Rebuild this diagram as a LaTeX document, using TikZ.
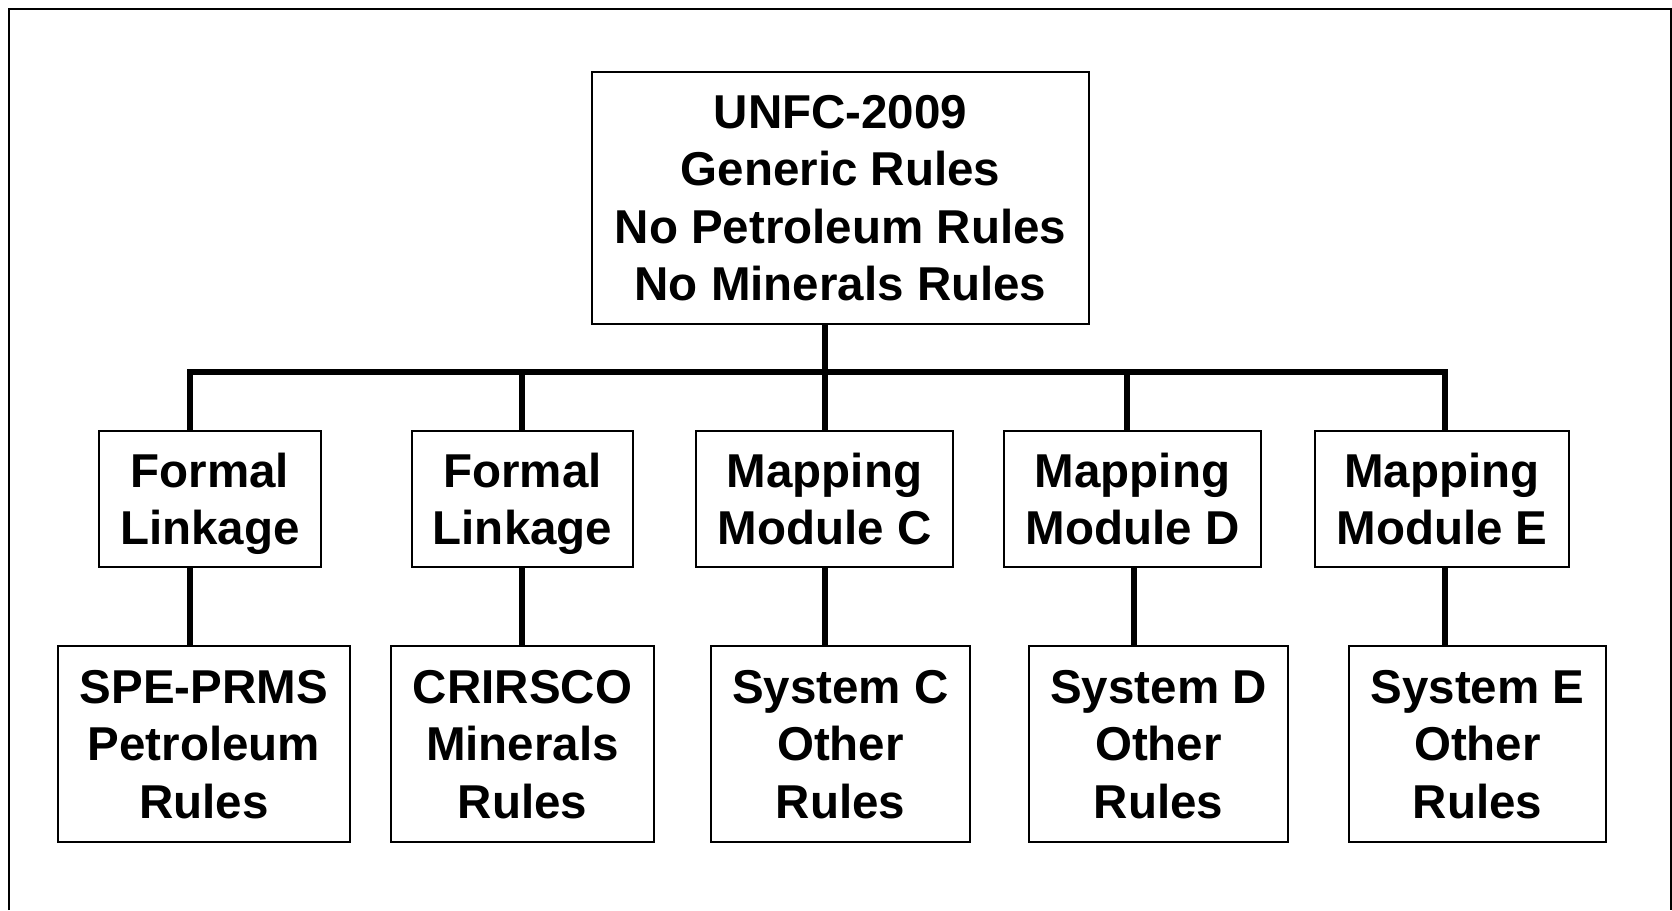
\documentclass[tikz,border=0pt]{standalone}
\usepackage{fontspec}
\setmainfont{Liberation Sans}
\begin{document}
\begin{tikzpicture}[x=1pt,y=-1pt,
  box/.style={draw, line width=2pt, inner sep=0pt, align=center, text depth=-4pt,
    font=\bfseries\fontsize{47.5}{57.5}\selectfont},
  topbox/.style={box, minimum width=497pt, minimum height=252pt},
  midbox/.style={box, minimum height=136pt},
  botbox/.style={box, minimum height=196pt},
  conn/.style={line width=6pt},
  frame/.style={line width=2pt}]
\useasboundingbox (0,0) rectangle (1672,910);
\draw[frame] (9,910) -- (9,9) -- (1670.5,9) -- (1670.5,910);

\node[topbox] (top) at (840.5,198) {UNFC-2009\\Generic Rules\\No Petroleum Rules\\No Minerals Rules};

\node[midbox, minimum width=222pt] (m1) at (210,499) {Formal\\Linkage};
\node[midbox, minimum width=221pt] (m2) at (522.5,499) {Formal\\Linkage};
\node[midbox, minimum width=257pt] (m3) at (824.5,499) {Mapping\\Module C};
\node[midbox, minimum width=257pt] (m4) at (1132.5,499) {Mapping\\Module D};
\node[midbox, minimum width=254pt] (m5) at (1442,499) {Mapping\\Module E};

\node[botbox, minimum width=292pt] (b1) at (204,744) {SPE-PRMS\\Petroleum\\Rules};
\node[botbox, minimum width=263pt] (b2) at (522.5,744) {CRIRSCO\\Minerals\\Rules};
\node[botbox, minimum width=259pt] (b3) at (840.5,744) {System C\\Other\\Rules};
\node[botbox, minimum width=259pt] (b4) at (1158.5,744) {System D\\Other\\Rules};
\node[botbox, minimum width=257pt] (b5) at (1477.5,744) {System E\\Other\\Rules};

\coordinate (barL) at (190,371.5);
\coordinate (barR) at (1445,371.5);
\coordinate (j0) at (825,371.5);
\coordinate (j1) at (190,371.5);
\coordinate (j2) at (522,371.5);
\coordinate (j3) at (825,371.5);
\coordinate (j4) at (1127,371.5);
\coordinate (j5) at (1445,371.5);
\coordinate (k4) at (1134,371.5);

\draw[conn, line cap=rect] (barL) -- (barR);
\draw[conn] (j0 |- top.south) -- (j0);
\foreach \i in {1,...,5} {
  \draw[conn] (j\i) -- (j\i |- m\i.north);
}
\draw[conn] (m1.south -| j1) -- (b1.north -| j1);
\draw[conn] (m2.south -| j2) -- (b2.north -| j2);
\draw[conn] (m3.south -| j3) -- (b3.north -| j3);
\draw[conn] (m4.south -| k4) -- (b4.north -| k4);
\draw[conn] (m5.south -| j5) -- (b5.north -| j5);
\end{tikzpicture}
\end{document}
